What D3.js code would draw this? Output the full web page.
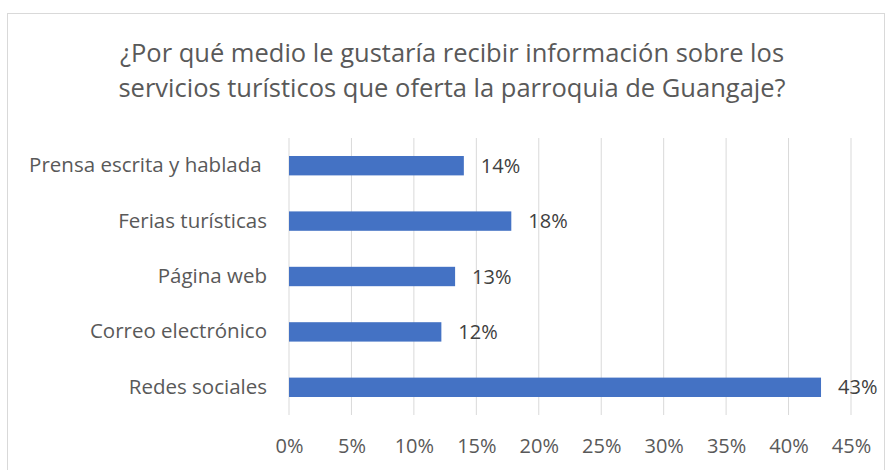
<!DOCTYPE html>
<html>
<head>
<meta charset="utf-8">
<script src="https://cdn.jsdelivr.net/npm/d3@7"></script>
<style>
  body { margin: 0; background: #fff; }
  text { font-family: "Open Sans", Lato, sans-serif; }
</style>
</head>
<body>
<div id="myChart"></div>
<script>
// data
let categories = ["Prensa escrita y hablada ", "Ferias turísticas", "Página web", "Correo electrónico", "Redes sociales"];
let values = [0.14, 0.178, 0.133, 0.122, 0.426];
let valueLabels = ["14%", "18%", "13%", "12%", "43%"];
let tickValues = [0, 0.05, 0.10, 0.15, 0.20, 0.25, 0.30, 0.35, 0.40, 0.45];
let titleLines = ["¿Por qué medio le gustaría recibir información sobre los",
                  "servicios turísticos que oferta la parroquia de Guangaje?"];

let W = 886, H = 470;
let margin = { top: 138, right: 35, bottom: 55, left: 289 },
    width = W - margin.left - margin.right,
    height = H - margin.top - margin.bottom;

let root = d3.select("#myChart").append("svg")
  .attr("width", W)
  .attr("height", H);

// chart frame
root.append("rect")
  .attr("x", 7.5).attr("y", 13.5)
  .attr("width", 877).attr("height", 480)
  .attr("fill", "#fff")
  .attr("stroke", "#d9d9d9");

// title
root.append("text")
  .attr("x", 452).attr("y", 62)
  .attr("text-anchor", "middle")
  .attr("fill", "#595959")
  .style("font-size", "25.5px")
  .selectAll("tspan")
  .data(titleLines)
  .enter()
  .append("tspan")
  .attr("x", 452)
  .attr("dy", (d, i) => i ? 35 : 0)
  .text(d => d);

let svg = root.append("g")
  .attr("transform", "translate(" + margin.left + "," + margin.top + ")");

let x = d3.scaleLinear()
  .domain([0, 0.45])
  .range([0, width]);

let y = d3.scaleBand()
  .domain(categories)
  .range([0, height])
  .paddingInner(0.65)
  .paddingOuter(0.325);

// gridlines
svg.selectAll(".grid")
  .data(tickValues)
  .enter()
  .append("line")
  .attr("class", "grid")
  .attr("x1", d => x(d)).attr("x2", d => x(d))
  .attr("y1", 0).attr("y2", height)
  .attr("stroke", "#d9d9d9")
  .attr("stroke-width", 1);

// x axis labels
let xAxis = svg.append("g")
  .attr("transform", "translate(0," + height + ")")
  .call(d3.axisBottom(x).tickValues(tickValues).tickFormat(d3.format(".0%")).tickSize(0).tickPadding(24));
xAxis.select(".domain").remove();
xAxis.selectAll("text")
  .attr("fill", "#595959")
  .style("font-size", "20px");

// y axis labels
let yAxis = svg.append("g")
  .call(d3.axisLeft(y).tickSize(0).tickPadding(22));
yAxis.select(".domain").remove();
yAxis.selectAll("text")
  .attr("fill", "#595959")
  .style("font-size", "20.5px")
  .style("white-space", "pre");

// bars
svg.selectAll(".bar")
  .data(values)
  .enter()
  .append("rect")
  .attr("class", "bar")
  .attr("fill", "#4472c4")
  .attr("x", x(0))
  .attr("y", (d, i) => y(categories[i]))
  .attr("width", d => x(d) - x(0))
  .attr("height", y.bandwidth());

// value labels
svg.selectAll(".val")
  .data(values)
  .enter()
  .append("text")
  .attr("class", "val")
  .attr("x", d => x(d) + 17)
  .attr("y", (d, i) => y(categories[i]) + y.bandwidth() / 2)
  .attr("dy", "0.35em")
  .attr("fill", "#404040")
  .style("font-size", "20px")
  .text((d, i) => valueLabels[i]);
</script>
</body>
</html>
